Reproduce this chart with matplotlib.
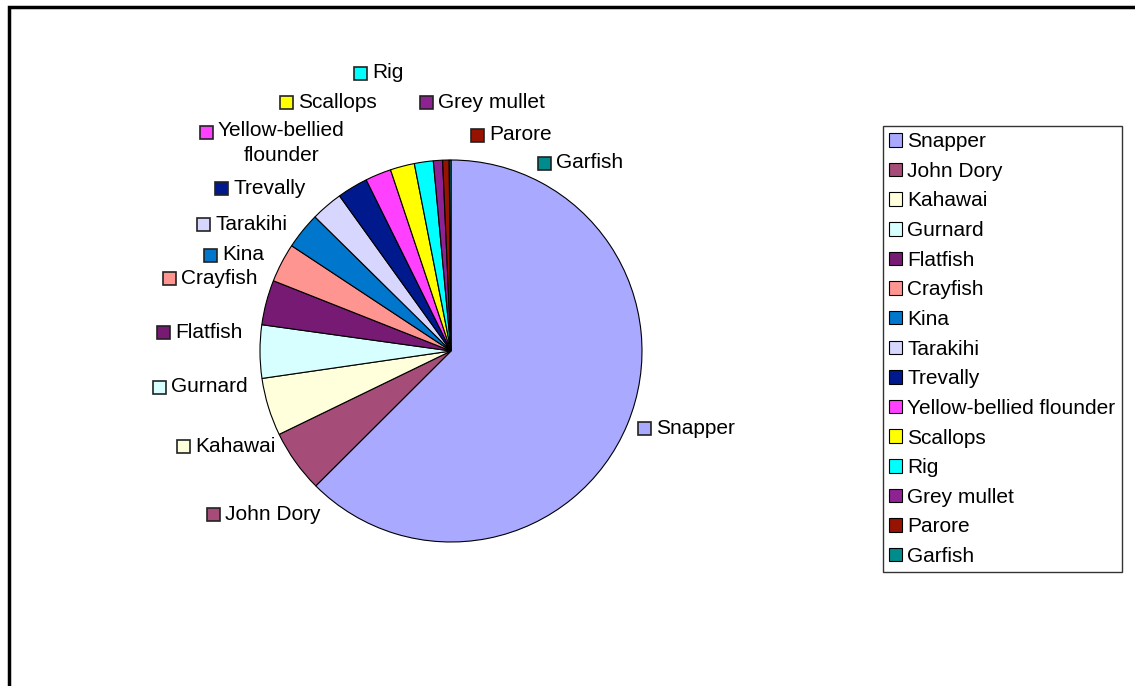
import matplotlib.pyplot as plt
from matplotlib.patches import Rectangle

plt.rcParams['font.family'] = ['Liberation Sans', 'DejaVu Sans']

# share of catch (%)
species = ["Snapper", "John Dory", "Kahawai", "Gurnard", "Flatfish", "Crayfish",
           "Kina", "Tarakihi", "Trevally", "Yellow-bellied flounder", "Scallops",
           "Rig", "Grey mullet", "Parore", "Garfish"]
share = [62.6, 5.3, 4.9, 4.5, 3.8, 3.3, 3.1, 2.7, 2.6, 2.2, 2.05, 1.6, 0.78, 0.55, 0.15]

colors = ["#A9A9FF", "#A54C78", "#FFFFDC", "#D8FFFF", "#771A74", "#FF9590",
          "#0077CC", "#D6D6FF", "#001A8E", "#FF40FF", "#FFFF00", "#00FFFF",
          "#8E2293", "#951300", "#008C8C"]

# label anchor (left of key square, pixel coords from top-left)
label_pos = [(638, 428), (207, 514), (177, 446), (153, 387), (157, 332),
             (163, 278), (204, 255), (197, 224), (215, 188), (200, 132),
             (280, 102), (354, 73), (420, 102), (471, 135), (538, 163)]
label_text = ["Snapper", "John Dory", "Kahawai", "Gurnard", "Flatfish", "Crayfish",
              "Kina", "Tarakihi", "Trevally", "Yellow-bellied\nflounder", "Scallops",
              "Rig", "Grey mullet", "Parore", "Garfish"]

W, H = 1135, 686
fig = plt.figure(figsize=(W / 100, H / 100), dpi=100)
ax = fig.add_axes([0, 0, 1, 1])
ax.set_xlim(0, W)
ax.set_ylim(0, H)
ax.set_aspect("equal")
ax.axis("off")

# outer chart frame (clipped on right/bottom like the original)
fig.patches.append(Rectangle((9 / W, -0.1), 1.2, (H - 7) / H + 0.1, transform=fig.transFigure,
                             fill=False, edgecolor="black", linewidth=2.5))

wedges, _ = ax.pie(share, colors=colors, center=(451, H - 351), radius=191,
                   startangle=90, counterclock=False, frame=True,
                   wedgeprops=dict(edgecolor="black", linewidth=0.8))
ax.set_xlim(0, W)
ax.set_ylim(0, H)
ax.axis("off")

fs = 15
sq = 13
for (x, y), txt, c in zip(label_pos, label_text, colors):
    ax.add_patch(Rectangle((x, H - y - sq / 2), sq, sq, facecolor=c,
                           edgecolor="#222222", linewidth=1.2))
    if "\n" in txt:
        ax.text(x + sq + 5, H - y + 11, txt, fontsize=fs, ha="left", va="top",
                multialignment="center", linespacing=1.4)
    else:
        ax.text(x + sq + 5, H - y, txt, fontsize=fs, ha="left", va="center")

leg = ax.legend(wedges, species, loc="upper left",
                bbox_to_anchor=(883 / W, 1 - 126 / H), bbox_transform=fig.transFigure,
                fontsize=fs, frameon=True, fancybox=False, handlelength=0.62,
                handleheight=0.62, handletextpad=0.25, labelspacing=0.51,
                borderpad=0.3, borderaxespad=0, edgecolor="black")
leg.get_frame().set_linewidth(1.0)

fig.savefig("out.png", dpi=100, facecolor="white")
